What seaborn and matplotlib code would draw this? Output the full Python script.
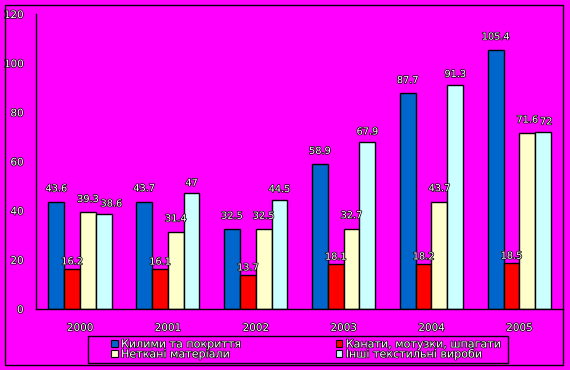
import matplotlib
matplotlib.use('Agg')
import matplotlib.pyplot as plt
import matplotlib.patheffects as pe
import pandas as pd
import seaborn as sns

years = ['2000', '2001', '2002', '2003', '2004', '2005']
series_names = [
    'Килими та покриття',
    'Канати, мотузки, шпагати',
    'Неткані матеріали',
    'Інші текстильні вироби',
]
carpets = [43.6, 43.7, 32.5, 58.9, 87.7, 105.4]
ropes = [16.2, 16.1, 13.7, 18.1, 18.2, 18.5]
nonwovens = [39.3, 31.4, 32.5, 32.7, 43.7, 71.6]
other = [38.6, 47, 44.5, 67.9, 91.3, 72]
label_text = [
    ['43.6', '43.7', '32.5', '58.9', '87.7', '105.4'],
    ['16.2', '16.1', '13.7', '18.1', '18.2', '18.5'],
    ['39.3', '31.4', '32.5', '32.7', '43.7', '71.6'],
    ['38.6', '47', '44.5', '67.9', '91.3', '72'],
]
y_ticks = [0, 20, 40, 60, 80, 100, 120]

colors = ['#0066cc', '#ff0000', '#ffffcc', '#ccffff']
bg = '#ff00ff'

rows = []
for name, vals in zip(series_names, [carpets, ropes, nonwovens, other]):
    for yr, v in zip(years, vals):
        rows.append({'year': yr, 'series': name, 'value': v})
df = pd.DataFrame(rows)

sns.set_style('white')
plt.rcParams['font.family'] = ['DejaVu Sans']

fig = plt.figure(figsize=(5.7, 3.7), dpi=100, facecolor=bg)
ax = fig.add_axes([0.0632, 0.165, 0.925, 0.797])
ax.set_facecolor(bg)

sns.barplot(data=df, x='year', y='value', hue='series', order=years,
            hue_order=series_names, palette=colors, width=0.72, dodge=True,
            edgecolor='black', linewidth=1, saturation=1, gap=0,
            legend=False, ax=ax)

txt_fx = [pe.withStroke(linewidth=1.0, foreground='black')]
pads = [6, 2, 6, 4]
value_labels = []
for cont, labs, p in zip(ax.containers, label_text, pads):
    value_labels.append(ax.bar_label(cont, labels=labs, padding=p, color='white',
                                     fontsize=7, path_effects=txt_fx))

ax.set_xlim(-0.5, len(years) - 0.5)
ax.set_ylim(0, 120)
ax.set_yticks(y_ticks)
ax.set_xlabel('')
ax.set_ylabel('')
for s in ['top', 'right']:
    ax.spines[s].set_visible(False)
for s in ['left', 'bottom']:
    ax.spines[s].set_color('black')
    ax.spines[s].set_linewidth(1)

ax.set_xticks(range(len(years)))
ax.set_xticklabels(years)
ax.set_xticks([i - 0.5 for i in range(len(years) + 1)], minor=True)
ax.tick_params(axis='x', which='major', length=0, pad=10)
ax.tick_params(axis='x', which='minor', length=4, width=1, color='black', direction='out')
ax.tick_params(axis='y', length=4, width=1, color='black', direction='out', pad=5)
for t in ax.get_xticklabels() + ax.get_yticklabels():
    t.set_color('white')
    t.set_fontsize(7.5)
    t.set_path_effects(txt_fx)

# nudge a value label to the right when it runs into the one on its left
fig.canvas.draw()
renderer = fig.canvas.get_renderer()
px_to_pt = 72 / fig.dpi
for j in range(len(years)):
    for i in range(1, len(value_labels)):
        prev = value_labels[i - 1][j].get_window_extent(renderer)
        ann = value_labels[i][j]
        cur = ann.get_window_extent(renderer)
        if cur.x0 < prev.x1 + 1 and cur.y0 < prev.y1 and cur.y1 > prev.y0:
            shift = (prev.x1 + 2 - cur.x0) * px_to_pt
            dx, dy = ann.xyann
            ann.xyann = (dx + shift, dy)

handles = [plt.Rectangle((0, 0), 1, 1, facecolor=c, edgecolor='black', linewidth=0.8)
           for c in colors]
order = [0, 2, 1, 3]
leg = fig.legend([handles[i] for i in order], [series_names[i] for i in order],
                 ncol=2, loc='center left', bbox_to_anchor=(111 / 570, 0.0554),
                 frameon=False, fontsize=8,
                 handlelength=0.6, handleheight=0.6, handletextpad=0.3,
                 columnspacing=8.5, labelspacing=0.0, borderpad=0,
                 borderaxespad=0)
for t in leg.get_texts():
    t.set_color('white')
    t.set_path_effects(txt_fx)

# legend box, drawn separately so it can be wider than its entries
fig.patches.append(plt.Rectangle((88 / 570, 7 / 370), 420 / 570, 27 / 370,
                                 transform=fig.transFigure, facecolor='none',
                                 edgecolor='black', linewidth=1))
# outer chart border
fig.patches.append(plt.Rectangle((5 / 570, 5 / 370), 558 / 570, 360 / 370,
                                 transform=fig.transFigure, fill=False,
                                 edgecolor='black', linewidth=1))

fig.savefig('out.png', dpi=100, facecolor=bg)
plt.close(fig)
